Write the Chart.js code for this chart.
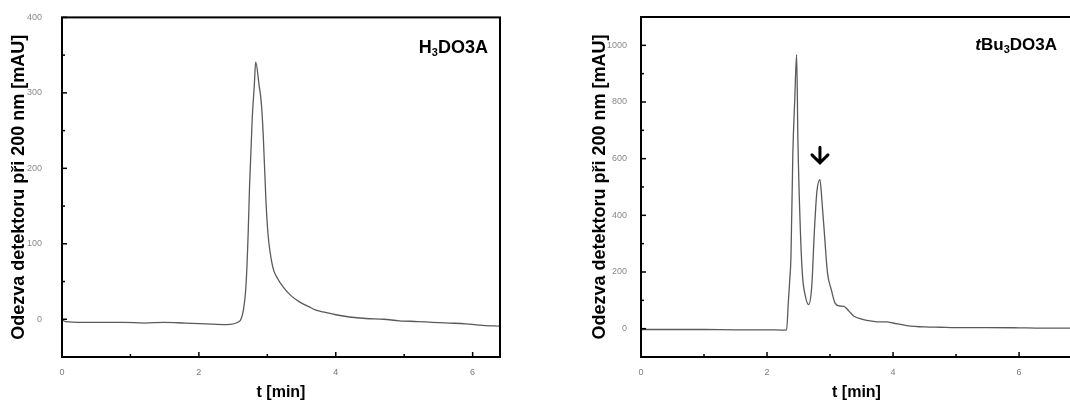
<!DOCTYPE html>
<html>
<head>
<meta charset="utf-8">
<script src="https://cdn.jsdelivr.net/npm/chart.js@4.4.1/dist/chart.umd.min.js"></script>
<style>
  body { margin: 0; width: 1070px; height: 403px; overflow: hidden; background: #fff; position: relative; }
  canvas { position: absolute; top: 0; }
  #chartH3 { left: 0; }
  #chartTBu { left: 535px; }
</style>
</head>
<body>
<canvas id="chartH3" width="535" height="403"></canvas>
<canvas id="chartTBu" width="545" height="403"></canvas>
<script>
/* data */
const h3Time = [0, 0.05, 0.3, 0.6, 0.9, 1.2, 1.5, 1.8, 2.1, 2.4, 2.59, 2.65, 2.69, 2.72, 2.74, 2.78, 2.81, 2.83, 2.88, 2.91, 2.94, 2.98, 3.01, 3.08, 3.15, 3.23, 3.35, 3.47, 3.6, 3.71, 3.85, 4.0, 4.2, 4.44, 4.7, 4.93, 5.2, 5.41, 5.65, 5.9, 6.15, 6.4];
const h3Signal = [0, -3, -4, -4, -4, -5, -4, -5, -6, -7, -3, 12, 47, 113, 175, 267, 310, 341, 310, 289, 245, 157, 113, 69, 54, 43, 31, 23, 17, 12, 9, 6, 3, 1, 0, -2, -3, -4, -5, -6, -8, -9];

const tbuTime = [0, 0.5, 1.0, 1.5, 2.0, 2.25, 2.31, 2.34, 2.36, 2.38, 2.41, 2.44, 2.47, 2.49, 2.52, 2.56, 2.61, 2.66, 2.71, 2.75, 2.79, 2.84, 2.87, 2.91, 2.96, 3.02, 3.08, 3.15, 3.22, 3.3, 3.38, 3.5, 3.69, 3.8, 3.9, 4.0, 4.22, 4.5, 4.75, 5.0, 5.5, 6.0, 6.3, 6.84];
const tbuSignal = [-3, -3, -3, -4, -4, -5, -4, 100, 170, 255, 620, 808, 967, 667, 408, 196, 114, 85, 150, 338, 480, 526, 455, 338, 196, 138, 90, 80, 79, 62, 44, 34, 26, 24, 24, 20, 11, 6, 5, 4, 4, 3, 2, 2];

const xLabels = [0, 2, 4, 6];
const h3YLabels = [0, 100, 200, 300, 400];
const tbuYLabels = [0, 200, 400, 600, 800, 1000];

/* arrow above the second peak (t, from, to in mAU) */
const arrowT = 2.84;
const arrowFrom = 640;
const arrowTo = 585;

const fontFam = "'Liberation Sans', Arial, sans-serif";

/* start plugins */
const frameTicks = {
  id: "frameTicks",
  afterDatasetsDraw(chart) {
    const ctx = chart.ctx;
    const a = chart.chartArea;
    const sx = chart.scales.x;
    const sy = chart.scales.y;
    ctx.save();
    ctx.strokeStyle = "#000";
    ctx.lineWidth = 1.5;
    sx.ticks.forEach(function (t) {
      const px = sx.getPixelForValue(t.value);
      const len = t.label === "" ? 3 : 5;
      ctx.beginPath();
      ctx.moveTo(px, a.bottom);
      ctx.lineTo(px, a.bottom - len);
      ctx.stroke();
    });
    sy.ticks.forEach(function (t) {
      const py = sy.getPixelForValue(t.value);
      const len = t.label === "" ? 3 : 5;
      ctx.beginPath();
      ctx.moveTo(a.left, py);
      ctx.lineTo(a.left + len, py);
      ctx.stroke();
    });
    ctx.lineWidth = 2;
    ctx.strokeRect(a.left, a.top, a.right - a.left, a.bottom - a.top);
    ctx.restore();
  },
};

// label like H3DO3A, parts: [text, sub?, italic?]
function drawLabel(chart, parts, size, rightGap, baseline) {
  const ctx = chart.ctx;
  const a = chart.chartArea;
  ctx.save();
  ctx.fillStyle = "#000";
  ctx.textBaseline = "alphabetic";
  let total = 0;
  const fonts = parts.map(function (p) {
    const s = p[1] ? Math.round(size * 0.62) : size;
    const f = (p[2] ? "italic " : "") + "bold " + s + "px " + fontFam;
    ctx.font = f;
    total += ctx.measureText(p[0]).width;
    return f;
  });
  let x = a.right - rightGap - total;
  parts.forEach(function (p, i) {
    ctx.font = fonts[i];
    ctx.fillText(p[0], x, a.top + baseline + (p[1] ? 3 : 0));
    x += ctx.measureText(p[0]).width;
  });
  ctx.restore();
}

const h3Label = {
  id: "h3Label",
  afterDraw(chart) {
    drawLabel(chart, [["H"], ["3", true], ["DO3A"]], 18, 12, 36);
  },
};

const tbuLabel = {
  id: "tbuLabel",
  afterDraw(chart) {
    drawLabel(chart, [["t", false, true], ["Bu"], ["3", true], ["DO3A"]], 17, 15, 33);
    const ctx = chart.ctx;
    const px = chart.scales.x.getPixelForValue(arrowT);
    const top = chart.scales.y.getPixelForValue(arrowFrom);
    const tip = chart.scales.y.getPixelForValue(arrowTo);
    ctx.save();
    ctx.strokeStyle = "#000";
    ctx.lineWidth = 3;
    ctx.lineCap = "round";
    ctx.beginPath();
    ctx.moveTo(px, top);
    ctx.lineTo(px, tip - 1);
    ctx.moveTo(px - 8, tip - 8);
    ctx.lineTo(px, tip);
    ctx.lineTo(px + 8, tip - 8);
    ctx.stroke();
    ctx.restore();
  },
};
/* end plugins */

function toPoints(time, signal) {
  return time.map(function (t, i) {
    return { x: t, y: signal[i] };
  });
}

function makeChart(el, time, signal, o) {
  return new Chart(el, {
    type: "line",
    data: {
      datasets: [
        {
          data: toPoints(time, signal),
          borderColor: "#5a5a5a",
          borderWidth: 1.3,
          pointRadius: 0,
          cubicInterpolationMode: "monotone",
        },
      ],
    },
    options: {
      responsive: false,
      animation: false,
      devicePixelRatio: 1,
      layout: { padding: { top: o.top, right: o.right, left: 0, bottom: 0 } },
      plugins: { legend: { display: false }, tooltip: { enabled: false } },
      scales: {
        x: {
          type: "linear",
          min: 0,
          max: o.xMax,
          grid: { display: false },
          border: { display: false },
          afterFit: function (s) {
            s.height = 403 - 357;
          },
          ticks: {
            stepSize: 1,
            autoSkip: false,
            includeBounds: false,
            maxRotation: 0,
            padding: 2,
            color: "#7a7a7a",
            font: { family: fontFam, size: 9 },
            callback: function (v) {
              return xLabels.indexOf(v) >= 0 ? String(v) : "";
            },
          },
          title: {
            display: true,
            text: "t [min]",
            color: "#000",
            font: { family: fontFam, size: 16, weight: "bold" },
            padding: { top: 0, bottom: 1 },
          },
        },
        y: {
          type: "linear",
          min: o.yMin,
          max: o.yMax,
          grid: { display: false },
          border: { display: false },
          afterFit: function (s) {
            s.width = o.axisW;
          },
          ticks: {
            stepSize: o.yStep,
            autoSkip: false,
            includeBounds: false,
            padding: o.tickPad,
            color: "#8a8a8a",
            font: { family: fontFam, size: 9 },
            callback: function (v) {
              return o.yLabels.indexOf(v) >= 0 ? String(v) : "";
            },
          },
          title: {
            display: true,
            text: "Odezva detektoru při 200 nm [mAU]",
            color: "#000",
            font: { family: fontFam, size: 18, weight: "bold" },
            padding: { top: o.titlePad, bottom: 0 },
          },
        },
      },
    },
    plugins: [frameTicks, o.extra],
  });
}

makeChart(document.getElementById("chartH3"), h3Time, h3Signal, {
  top: 16,
  right: 35,
  xMax: 6.4,
  yMin: -50,
  yMax: 400,
  yStep: 50,
  yLabels: h3YLabels,
  axisW: 62,
  tickPad: 12,
  titlePad: 8,
  extra: h3Label,
});

makeChart(document.getElementById("chartTBu"), tbuTime, tbuSignal, {
  top: 17,
  right: 8,
  xMax: 6.84,
  yMin: -100,
  yMax: 1100,
  yStep: 100,
  yLabels: tbuYLabels,
  axisW: 106,
  tickPad: 6,
  titlePad: 54,
  extra: tbuLabel,
});
</script>
</body>
</html>
